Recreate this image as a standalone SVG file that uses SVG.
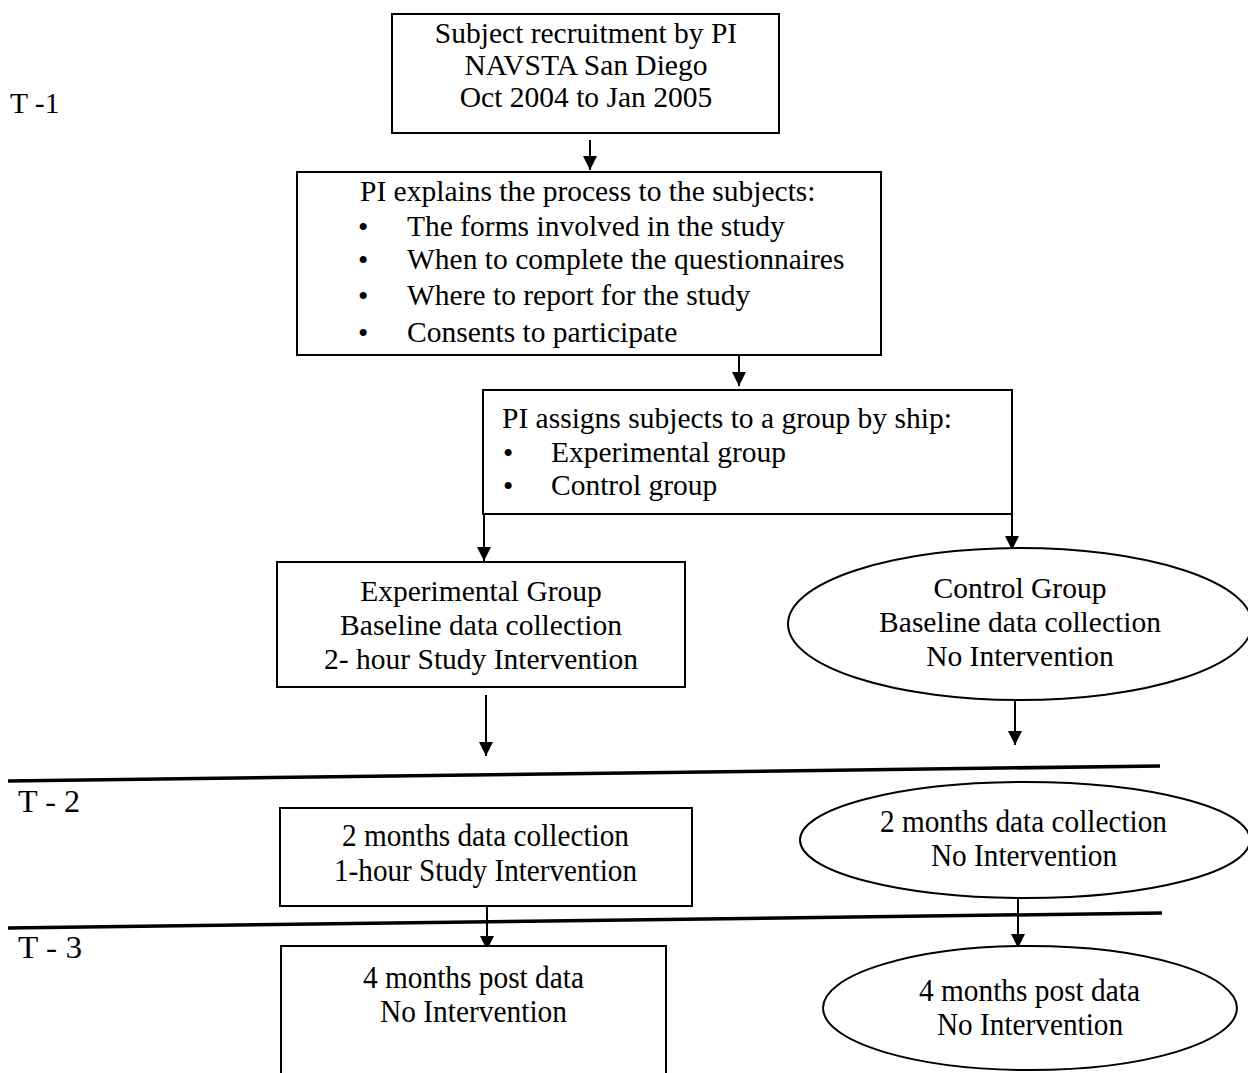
<svg xmlns="http://www.w3.org/2000/svg" width="1248" height="1073" viewBox="0 0 1248 1073">
  <style>
    .box { fill: #fff; stroke: #000; stroke-width: 2; }
    .line { fill: none; stroke: #000; stroke-width: 2; }
    .sep { fill: none; stroke: #000; stroke-width: 3.5; }
    text { font-family: "Liberation Serif", "Times New Roman", serif; font-size: 29.5px; fill: #000; }
    .c { text-anchor: middle; }
    .n { font-size: 31px; }
  </style>
  <defs>
    <marker id="arrow" viewBox="0 0 10 10" refX="10" refY="5" markerWidth="14" markerHeight="14" markerUnits="userSpaceOnUse" orient="auto">
      <path d="M0,0 L10,5 L0,10 Z" fill="#000"/>
    </marker>
  </defs>

  <!-- phase labels and separators -->
  <g id="phases">
    <text x="10" y="113">T -1</text>
    <path class="sep" d="M8,781 L1160,766"/>
    <text class="n" x="18" y="812" textLength="62" lengthAdjust="spacingAndGlyphs">T - 2</text>
    <path class="sep" d="M8,928 L1162,913"/>
    <text class="n" x="18" y="958" textLength="64" lengthAdjust="spacingAndGlyphs">T - 3</text>
  </g>

  <!-- connectors -->
  <g id="connectors">
    <path class="line" d="M590,140 L590,170" marker-end="url(#arrow)"/>
    <path class="line" d="M739,352 L739,386" marker-end="url(#arrow)"/>
    <path class="line" d="M484,514 L484,561" marker-end="url(#arrow)"/>
    <path class="line" d="M1012,514 L1012,550" marker-end="url(#arrow)"/>
    <path class="line" d="M486,695 L486,756" marker-end="url(#arrow)"/>
    <path class="line" d="M1015,697 L1015,745" marker-end="url(#arrow)"/>
    <path class="line" d="M487,906 L487,950" marker-end="url(#arrow)"/>
    <path class="line" d="M1018,898 L1018,948" marker-end="url(#arrow)"/>
  </g>

  <g id="recruitment">
    <rect class="box" x="392" y="14" width="387" height="119"/>
    <text class="c" x="586" y="43">Subject recruitment by PI</text>
    <text class="c" x="586" y="75">NAVSTA San Diego</text>
    <text class="c" x="586" y="107">Oct 2004 to Jan 2005</text>
  </g>

  <g id="explain">
    <rect class="box" x="297" y="172" width="584" height="183"/>
    <text x="360" y="201">PI explains the process to the subjects:</text>
    <text x="358" y="237">•</text><text x="407" y="236">The forms involved in the study</text>
    <text x="358" y="270">•</text><text x="407" y="269">When to complete the questionnaires</text>
    <text x="358" y="306">•</text><text x="407" y="305">Where to report for the study</text>
    <text x="358" y="343">•</text><text x="407" y="342">Consents to participate</text>
  </g>

  <g id="assign">
    <rect class="box" x="483" y="390" width="529" height="124"/>
    <text x="502" y="428">PI assigns subjects to a group by ship:</text>
    <text x="503" y="463">•</text><text x="551" y="462">Experimental group</text>
    <text x="503" y="496">•</text><text x="551" y="495">Control group</text>
  </g>

  <g id="exp-baseline">
    <rect class="box" x="277" y="562" width="408" height="125"/>
    <text class="c" x="481" y="601">Experimental Group</text>
    <text class="c" x="481" y="635">Baseline data collection</text>
    <text class="c" x="481" y="669">2- hour Study Intervention</text>
  </g>

  <g id="ctrl-baseline">
    <ellipse class="box" cx="1020" cy="624" rx="232" ry="76"/>
    <text class="c" x="1020" y="598">Control Group</text>
    <text class="c" x="1020" y="632">Baseline data collection</text>
    <text class="c" x="1020" y="666">No Intervention</text>
  </g>

  <g id="exp-2months">
    <rect class="box" x="280" y="808" width="412" height="98"/>
    <text class="n" x="342" y="846" textLength="287" lengthAdjust="spacingAndGlyphs">2 months data collection</text>
    <text class="n" x="334" y="881" textLength="303" lengthAdjust="spacingAndGlyphs">1-hour Study Intervention</text>
  </g>

  <g id="ctrl-2months">
    <ellipse class="box" cx="1025" cy="840" rx="225" ry="58"/>
    <text class="n" x="880" y="832" textLength="287" lengthAdjust="spacingAndGlyphs">2 months data collection</text>
    <text class="n" x="931" y="866" textLength="186" lengthAdjust="spacingAndGlyphs">No Intervention</text>
  </g>

  <g id="exp-4months">
    <rect class="box" x="281" y="946" width="385" height="140"/>
    <text class="n" x="363" y="988" textLength="221" lengthAdjust="spacingAndGlyphs">4 months post data</text>
    <text class="n" x="380" y="1022" textLength="187" lengthAdjust="spacingAndGlyphs">No Intervention</text>
  </g>

  <g id="ctrl-4months">
    <ellipse class="box" cx="1030" cy="1008" rx="207" ry="62"/>
    <text class="n" x="919" y="1001" textLength="221" lengthAdjust="spacingAndGlyphs">4 months post data</text>
    <text class="n" x="937" y="1035" textLength="186" lengthAdjust="spacingAndGlyphs">No Intervention</text>
  </g>
</svg>
